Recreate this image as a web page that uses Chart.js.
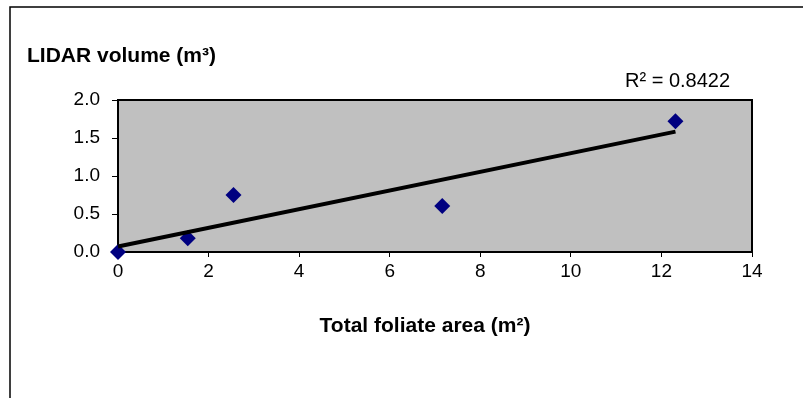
<!DOCTYPE html>
<html>
<head>
<meta charset="utf-8">
<title>LIDAR volume vs total foliate area</title>
<script src="https://cdn.jsdelivr.net/npm/chart.js@4"></script>
<style>
  html, body { margin: 0; padding: 0; background: #fff; }
  #wrap { width: 803px; height: 398px; position: relative; }
</style>
</head>
<body>
<div id="wrap"><canvas id="chart"></canvas></div>
<script>
// values
const foliateArea = [0, 1.54, 2.55, 7.16, 12.31];   // m2
const lidarVolume = [0, 0.18, 0.75, 0.605, 1.72];   // m3
const xTicks = [0, 2, 4, 6, 8, 10, 12, 14];
const yTicks = [0, 0.5, 1.0, 1.5, 2.0];
const yTitle = 'LIDAR volume (m³)';
const xTitle = 'Total foliate area (m²)';
const rSquaredLabel = 'R² = 0.8422';

const FONT = '"Liberation Sans", Arial, sans-serif';

// least squares line, same as the spreadsheet trendline
function linearFit(xs, ys) {
  const n = xs.length;
  const mx = xs.reduce((a, b) => a + b, 0) / n;
  const my = ys.reduce((a, b) => a + b, 0) / n;
  let sxy = 0, sxx = 0;
  for (let i = 0; i < n; i++) {
    sxy += (xs[i] - mx) * (ys[i] - my);
    sxx += (xs[i] - mx) * (xs[i] - mx);
  }
  const slope = sxy / sxx;
  return { slope: slope, intercept: my - slope * mx };
}

const fit = linearFit(foliateArea, lidarVolume);
const xMin = Math.min(...foliateArea);
const xMax = Math.max(...foliateArea);
const trendPoints = [
  { x: xMin, y: fit.intercept + fit.slope * xMin },
  { x: xMax, y: fit.intercept + fit.slope * xMax }
];
const points = foliateArea.map((x, i) => ({ x: x, y: lidarVolume[i] }));

// grey plot area, frame and the free texts
const decor = {
  id: 'decor',
  beforeDraw(chart) {
    const { ctx, chartArea: a } = chart;
    ctx.save();
    ctx.fillStyle = '#fff';
    ctx.fillRect(0, 0, chart.width, chart.height);
    ctx.fillStyle = '#c0c0c0';
    ctx.fillRect(a.left, a.top, a.right - a.left, a.bottom - a.top);
    ctx.strokeStyle = '#000';
    ctx.lineWidth = 2;
    ctx.strokeRect(a.left, a.top, a.right - a.left, a.bottom - a.top);

    // outer chart border (only top and left are in the picture)
    ctx.lineWidth = 1.5;
    ctx.beginPath();
    ctx.moveTo(10, chart.height);
    ctx.lineTo(10, 7);
    ctx.lineTo(chart.width, 7);
    ctx.stroke();

    ctx.fillStyle = '#000';
    ctx.textBaseline = 'alphabetic';
    ctx.font = 'bold 21px ' + FONT;
    ctx.textAlign = 'left';
    ctx.fillText(yTitle, 27, 62);
    ctx.textAlign = 'center';
    ctx.fillText(xTitle, 425, 332);
    ctx.font = '20px ' + FONT;
    ctx.textAlign = 'left';
    ctx.fillText(rSquaredLabel, 625, 87);
    ctx.restore();
  }
};

const tickFont = { family: FONT, size: 19 };

new Chart(document.getElementById('chart'), {
  type: 'scatter',
  data: {
    datasets: [
      {
        type: 'line',
        data: trendPoints,
        borderColor: '#000',
        borderWidth: 4,
        pointRadius: 0,
        fill: false,
        clip: false,
        order: 0
      },
      {
        type: 'scatter',
        data: points,
        pointStyle: 'rectRot',
        pointRadius: 8,
        backgroundColor: '#000080',
        borderColor: '#000080',
        borderWidth: 0,
        clip: false,
        order: 1
      }
    ]
  },
  options: {
    responsive: true,
    maintainAspectRatio: false,
    animation: false,
    layout: { padding: { top: 100, right: 51, left: 0, bottom: 0 } },
    plugins: { legend: { display: false }, tooltip: { enabled: false } },
    scales: {
      x: {
        type: 'linear',
        position: 'bottom',
        min: xTicks[0],
        max: xTicks[xTicks.length - 1],
        afterBuildTicks: s => { s.ticks = xTicks.map(v => ({ value: v })); },
        afterFit: s => { s.height = 146; },
        grid: { drawOnChartArea: false, drawTicks: true, tickLength: 5, color: '#000', lineWidth: 1 },
        border: { display: true, color: '#000', width: 2 },
        ticks: { font: tickFont, color: '#000', padding: 3, maxRotation: 0, autoSkip: false }
      },
      y: {
        type: 'linear',
        min: yTicks[0],
        max: yTicks[yTicks.length - 1],
        afterBuildTicks: s => { s.ticks = yTicks.map(v => ({ value: v })); },
        afterFit: s => { s.width = 118; },
        grid: { drawOnChartArea: false, drawTicks: true, tickLength: 6, color: '#000', lineWidth: 1 },
        border: { display: true, color: '#000', width: 2 },
        ticks: { font: tickFont, color: '#000', padding: 12, callback: v => v.toFixed(1) }
      }
    }
  },
  plugins: [decor]
});
</script>
</body>
</html>
